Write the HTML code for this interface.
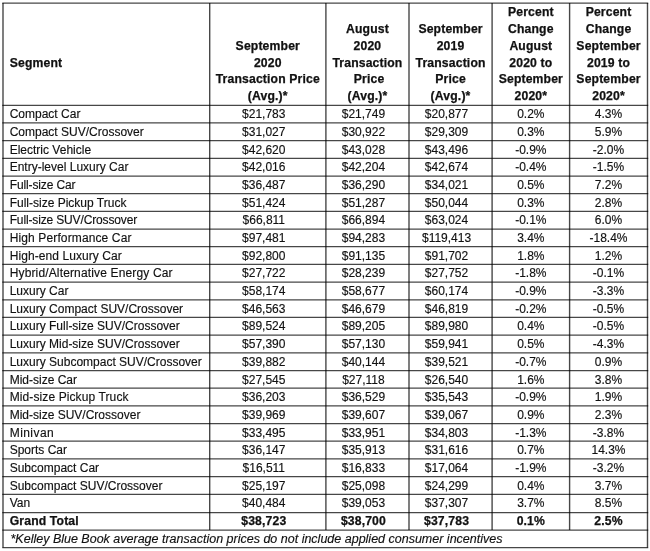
<!DOCTYPE html>
<html><head><meta charset="utf-8"><style>
html,body{margin:0;padding:0;background:#fff;}
body{width:650px;height:551px;position:relative;overflow:hidden;font-family:"Liberation Sans",Arial,sans-serif;font-size:12px;color:#111;-webkit-font-smoothing:antialiased;filter:grayscale(1);}
.t{position:absolute;white-space:nowrap;line-height:20px;height:20px;-webkit-text-stroke:0.15px #111;}
.c{text-align:center;}
.b{font-weight:bold;font-size:12.2px;-webkit-text-stroke:0.25px #111;letter-spacing:0.15px;}
.i{font-style:italic;font-size:12.5px;}
svg line{stroke:#000;stroke-width:1.4;stroke-opacity:0.72;}
svg line.h{stroke-width:1.25;}
</style></head><body>
<svg width="650" height="551" viewBox="0 0 650 551" style="position:absolute;left:0;top:0"><line class="h" x1="2.30" y1="3.00" x2="648.20" y2="3.00"/><line class="h" x1="2.30" y1="105.30" x2="648.20" y2="105.30"/><line class="h" x1="2.30" y1="122.98" x2="648.20" y2="122.98"/><line class="h" x1="2.30" y1="140.66" x2="648.20" y2="140.66"/><line class="h" x1="2.30" y1="158.34" x2="648.20" y2="158.34"/><line class="h" x1="2.30" y1="176.02" x2="648.20" y2="176.02"/><line class="h" x1="2.30" y1="193.70" x2="648.20" y2="193.70"/><line class="h" x1="2.30" y1="211.38" x2="648.20" y2="211.38"/><line class="h" x1="2.30" y1="229.06" x2="648.20" y2="229.06"/><line class="h" x1="2.30" y1="246.74" x2="648.20" y2="246.74"/><line class="h" x1="2.30" y1="264.42" x2="648.20" y2="264.42"/><line class="h" x1="2.30" y1="282.10" x2="648.20" y2="282.10"/><line class="h" x1="2.30" y1="299.78" x2="648.20" y2="299.78"/><line class="h" x1="2.30" y1="317.46" x2="648.20" y2="317.46"/><line class="h" x1="2.30" y1="335.14" x2="648.20" y2="335.14"/><line class="h" x1="2.30" y1="352.82" x2="648.20" y2="352.82"/><line class="h" x1="2.30" y1="370.50" x2="648.20" y2="370.50"/><line class="h" x1="2.30" y1="388.18" x2="648.20" y2="388.18"/><line class="h" x1="2.30" y1="405.86" x2="648.20" y2="405.86"/><line class="h" x1="2.30" y1="423.54" x2="648.20" y2="423.54"/><line class="h" x1="2.30" y1="441.22" x2="648.20" y2="441.22"/><line class="h" x1="2.30" y1="458.90" x2="648.20" y2="458.90"/><line class="h" x1="2.30" y1="476.58" x2="648.20" y2="476.58"/><line class="h" x1="2.30" y1="494.26" x2="648.20" y2="494.26"/><line class="h" x1="2.30" y1="512.50" x2="648.20" y2="512.50"/><line class="h" x1="2.30" y1="530.00" x2="648.20" y2="530.00"/><line class="h" x1="2.30" y1="547.50" x2="648.20" y2="547.50"/><line x1="3.00" y1="3.00" x2="3.00" y2="547.50"/><line x1="209.70" y1="3.00" x2="209.70" y2="530.00"/><line x1="325.90" y1="3.00" x2="325.90" y2="530.00"/><line x1="409.00" y1="3.00" x2="409.00" y2="530.00"/><line x1="492.10" y1="3.00" x2="492.10" y2="530.00"/><line x1="569.60" y1="3.00" x2="569.60" y2="530.00"/><line x1="647.50" y1="3.00" x2="647.50" y2="547.50"/></svg>
<div class="t b" style="left:9.70px;top:52.55px">Segment</div>
<div class="t c b" style="left:209.70px;top:35.70px;width:116.20px">September</div>
<div class="t c b" style="left:209.70px;top:52.55px;width:116.20px">2020</div>
<div class="t c b" style="left:209.70px;top:69.40px;width:116.20px">Transaction Price</div>
<div class="t c b" style="left:209.70px;top:86.25px;width:116.20px">(Avg.)*</div>
<div class="t c b" style="left:325.90px;top:18.85px;width:83.10px">August</div>
<div class="t c b" style="left:325.90px;top:35.70px;width:83.10px">2020</div>
<div class="t c b" style="left:325.90px;top:52.55px;width:83.10px">Transaction</div>
<div class="t c b" style="left:327.50px;top:69.40px;width:83.10px">Price</div>
<div class="t c b" style="left:325.90px;top:86.25px;width:83.10px">(Avg.)*</div>
<div class="t c b" style="left:409.00px;top:18.85px;width:83.10px">September</div>
<div class="t c b" style="left:409.00px;top:35.70px;width:83.10px">2019</div>
<div class="t c b" style="left:409.00px;top:52.55px;width:83.10px">Transaction</div>
<div class="t c b" style="left:409.00px;top:69.40px;width:83.10px">Price</div>
<div class="t c b" style="left:409.00px;top:86.25px;width:83.10px">(Avg.)*</div>
<div class="t c b" style="left:492.10px;top:2.00px;width:77.50px">Percent</div>
<div class="t c b" style="left:492.10px;top:18.85px;width:77.50px">Change</div>
<div class="t c b" style="left:492.10px;top:35.70px;width:77.50px">August</div>
<div class="t c b" style="left:492.10px;top:52.55px;width:77.50px">2020 to</div>
<div class="t c b" style="left:492.10px;top:69.40px;width:77.50px">September</div>
<div class="t c b" style="left:492.10px;top:86.25px;width:77.50px">2020*</div>
<div class="t c b" style="left:569.60px;top:2.00px;width:77.90px">Percent</div>
<div class="t c b" style="left:569.60px;top:18.85px;width:77.90px">Change</div>
<div class="t c b" style="left:569.60px;top:35.70px;width:77.90px">September</div>
<div class="t c b" style="left:569.60px;top:52.55px;width:77.90px">2019 to</div>
<div class="t c b" style="left:569.60px;top:69.40px;width:77.90px">September</div>
<div class="t c b" style="left:569.60px;top:86.25px;width:77.90px">2020*</div>
<div class="t " style="left:9.70px;top:104.30px">Compact Car</div>
<div class="t c " style="left:205.70px;top:104.30px;width:116.20px">$21,783</div>
<div class="t c " style="left:321.90px;top:104.30px;width:83.10px">$21,749</div>
<div class="t c " style="left:405.00px;top:104.30px;width:83.10px">$20,877</div>
<div class="t c " style="left:492.10px;top:104.30px;width:77.50px">0.2%</div>
<div class="t c " style="left:569.60px;top:104.30px;width:77.90px">4.3%</div>
<div class="t " style="left:9.70px;top:121.98px">Compact SUV/Crossover</div>
<div class="t c " style="left:205.70px;top:121.98px;width:116.20px">$31,027</div>
<div class="t c " style="left:321.90px;top:121.98px;width:83.10px">$30,922</div>
<div class="t c " style="left:405.00px;top:121.98px;width:83.10px">$29,309</div>
<div class="t c " style="left:492.10px;top:121.98px;width:77.50px">0.3%</div>
<div class="t c " style="left:569.60px;top:121.98px;width:77.90px">5.9%</div>
<div class="t " style="left:9.70px;top:139.66px">Electric Vehicle</div>
<div class="t c " style="left:205.70px;top:139.66px;width:116.20px">$42,620</div>
<div class="t c " style="left:321.90px;top:139.66px;width:83.10px">$43,028</div>
<div class="t c " style="left:405.00px;top:139.66px;width:83.10px">$43,496</div>
<div class="t c " style="left:492.10px;top:139.66px;width:77.50px">-0.9%</div>
<div class="t c " style="left:569.60px;top:139.66px;width:77.90px">-2.0%</div>
<div class="t " style="left:9.70px;top:157.34px">Entry-level Luxury Car</div>
<div class="t c " style="left:205.70px;top:157.34px;width:116.20px">$42,016</div>
<div class="t c " style="left:321.90px;top:157.34px;width:83.10px">$42,204</div>
<div class="t c " style="left:405.00px;top:157.34px;width:83.10px">$42,674</div>
<div class="t c " style="left:492.10px;top:157.34px;width:77.50px">-0.4%</div>
<div class="t c " style="left:569.60px;top:157.34px;width:77.90px">-1.5%</div>
<div class="t " style="left:9.70px;top:175.02px;letter-spacing:-0.125px">Full-size Car</div>
<div class="t c " style="left:205.70px;top:175.02px;width:116.20px">$36,487</div>
<div class="t c " style="left:321.90px;top:175.02px;width:83.10px">$36,290</div>
<div class="t c " style="left:405.00px;top:175.02px;width:83.10px">$34,021</div>
<div class="t c " style="left:492.10px;top:175.02px;width:77.50px">0.5%</div>
<div class="t c " style="left:569.60px;top:175.02px;width:77.90px">7.2%</div>
<div class="t " style="left:9.70px;top:192.70px">Full-size Pickup Truck</div>
<div class="t c " style="left:205.70px;top:192.70px;width:116.20px">$51,424</div>
<div class="t c " style="left:321.90px;top:192.70px;width:83.10px">$51,287</div>
<div class="t c " style="left:405.00px;top:192.70px;width:83.10px">$50,044</div>
<div class="t c " style="left:492.10px;top:192.70px;width:77.50px">0.3%</div>
<div class="t c " style="left:569.60px;top:192.70px;width:77.90px">2.8%</div>
<div class="t " style="left:9.70px;top:210.38px;letter-spacing:-0.145px">Full-size SUV/Crossover</div>
<div class="t c " style="left:205.70px;top:210.38px;width:116.20px">$66,811</div>
<div class="t c " style="left:321.90px;top:210.38px;width:83.10px">$66,894</div>
<div class="t c " style="left:405.00px;top:210.38px;width:83.10px">$63,024</div>
<div class="t c " style="left:492.10px;top:210.38px;width:77.50px">-0.1%</div>
<div class="t c " style="left:569.60px;top:210.38px;width:77.90px">6.0%</div>
<div class="t " style="left:9.70px;top:228.06px;letter-spacing:0.126px">High Performance Car</div>
<div class="t c " style="left:205.70px;top:228.06px;width:116.20px">$97,481</div>
<div class="t c " style="left:321.90px;top:228.06px;width:83.10px">$94,283</div>
<div class="t c " style="left:405.00px;top:228.06px;width:83.10px">$119,413</div>
<div class="t c " style="left:492.10px;top:228.06px;width:77.50px">3.4%</div>
<div class="t c " style="left:569.60px;top:228.06px;width:77.90px">-18.4%</div>
<div class="t " style="left:9.70px;top:245.74px;letter-spacing:0.078px">High-end Luxury Car</div>
<div class="t c " style="left:205.70px;top:245.74px;width:116.20px">$92,800</div>
<div class="t c " style="left:321.90px;top:245.74px;width:83.10px">$91,135</div>
<div class="t c " style="left:405.00px;top:245.74px;width:83.10px">$91,702</div>
<div class="t c " style="left:492.10px;top:245.74px;width:77.50px">1.8%</div>
<div class="t c " style="left:569.60px;top:245.74px;width:77.90px">1.2%</div>
<div class="t " style="left:9.70px;top:263.42px;letter-spacing:0.146px">Hybrid/Alternative Energy Car</div>
<div class="t c " style="left:205.70px;top:263.42px;width:116.20px">$27,722</div>
<div class="t c " style="left:321.90px;top:263.42px;width:83.10px">$28,239</div>
<div class="t c " style="left:405.00px;top:263.42px;width:83.10px">$27,752</div>
<div class="t c " style="left:492.10px;top:263.42px;width:77.50px">-1.8%</div>
<div class="t c " style="left:569.60px;top:263.42px;width:77.90px">-0.1%</div>
<div class="t " style="left:9.70px;top:281.10px">Luxury Car</div>
<div class="t c " style="left:205.70px;top:281.10px;width:116.20px">$58,174</div>
<div class="t c " style="left:321.90px;top:281.10px;width:83.10px">$58,677</div>
<div class="t c " style="left:405.00px;top:281.10px;width:83.10px">$60,174</div>
<div class="t c " style="left:492.10px;top:281.10px;width:77.50px">-0.9%</div>
<div class="t c " style="left:569.60px;top:281.10px;width:77.90px">-3.3%</div>
<div class="t " style="left:9.70px;top:298.78px">Luxury Compact SUV/Crossover</div>
<div class="t c " style="left:205.70px;top:298.78px;width:116.20px">$46,563</div>
<div class="t c " style="left:321.90px;top:298.78px;width:83.10px">$46,679</div>
<div class="t c " style="left:405.00px;top:298.78px;width:83.10px">$46,819</div>
<div class="t c " style="left:492.10px;top:298.78px;width:77.50px">-0.2%</div>
<div class="t c " style="left:569.60px;top:298.78px;width:77.90px">-0.5%</div>
<div class="t " style="left:9.70px;top:316.46px">Luxury Full-size SUV/Crossover</div>
<div class="t c " style="left:205.70px;top:316.46px;width:116.20px">$89,524</div>
<div class="t c " style="left:321.90px;top:316.46px;width:83.10px">$89,205</div>
<div class="t c " style="left:405.00px;top:316.46px;width:83.10px">$89,980</div>
<div class="t c " style="left:492.10px;top:316.46px;width:77.50px">0.4%</div>
<div class="t c " style="left:569.60px;top:316.46px;width:77.90px">-0.5%</div>
<div class="t " style="left:9.70px;top:334.14px">Luxury Mid-size SUV/Crossover</div>
<div class="t c " style="left:205.70px;top:334.14px;width:116.20px">$57,390</div>
<div class="t c " style="left:321.90px;top:334.14px;width:83.10px">$57,130</div>
<div class="t c " style="left:405.00px;top:334.14px;width:83.10px">$59,941</div>
<div class="t c " style="left:492.10px;top:334.14px;width:77.50px">0.5%</div>
<div class="t c " style="left:569.60px;top:334.14px;width:77.90px">-4.3%</div>
<div class="t " style="left:9.70px;top:351.82px">Luxury Subcompact SUV/Crossover</div>
<div class="t c " style="left:205.70px;top:351.82px;width:116.20px">$39,882</div>
<div class="t c " style="left:321.90px;top:351.82px;width:83.10px">$40,144</div>
<div class="t c " style="left:405.00px;top:351.82px;width:83.10px">$39,521</div>
<div class="t c " style="left:492.10px;top:351.82px;width:77.50px">-0.7%</div>
<div class="t c " style="left:569.60px;top:351.82px;width:77.90px">0.9%</div>
<div class="t " style="left:9.70px;top:369.50px">Mid-size Car</div>
<div class="t c " style="left:205.70px;top:369.50px;width:116.20px">$27,545</div>
<div class="t c " style="left:321.90px;top:369.50px;width:83.10px">$27,118</div>
<div class="t c " style="left:405.00px;top:369.50px;width:83.10px">$26,540</div>
<div class="t c " style="left:492.10px;top:369.50px;width:77.50px">1.6%</div>
<div class="t c " style="left:569.60px;top:369.50px;width:77.90px">3.8%</div>
<div class="t " style="left:9.70px;top:387.18px;letter-spacing:0.105px">Mid-size Pickup Truck</div>
<div class="t c " style="left:205.70px;top:387.18px;width:116.20px">$36,203</div>
<div class="t c " style="left:321.90px;top:387.18px;width:83.10px">$36,529</div>
<div class="t c " style="left:405.00px;top:387.18px;width:83.10px">$35,543</div>
<div class="t c " style="left:492.10px;top:387.18px;width:77.50px">-0.9%</div>
<div class="t c " style="left:569.60px;top:387.18px;width:77.90px">1.9%</div>
<div class="t " style="left:9.70px;top:404.86px">Mid-size SUV/Crossover</div>
<div class="t c " style="left:205.70px;top:404.86px;width:116.20px">$39,969</div>
<div class="t c " style="left:321.90px;top:404.86px;width:83.10px">$39,607</div>
<div class="t c " style="left:405.00px;top:404.86px;width:83.10px">$39,067</div>
<div class="t c " style="left:492.10px;top:404.86px;width:77.50px">0.9%</div>
<div class="t c " style="left:569.60px;top:404.86px;width:77.90px">2.3%</div>
<div class="t " style="left:9.70px;top:422.54px;letter-spacing:0.450px">Minivan</div>
<div class="t c " style="left:205.70px;top:422.54px;width:116.20px">$33,495</div>
<div class="t c " style="left:321.90px;top:422.54px;width:83.10px">$33,951</div>
<div class="t c " style="left:405.00px;top:422.54px;width:83.10px">$34,803</div>
<div class="t c " style="left:492.10px;top:422.54px;width:77.50px">-1.3%</div>
<div class="t c " style="left:569.60px;top:422.54px;width:77.90px">-3.8%</div>
<div class="t " style="left:9.70px;top:440.22px">Sports Car</div>
<div class="t c " style="left:205.70px;top:440.22px;width:116.20px">$36,147</div>
<div class="t c " style="left:321.90px;top:440.22px;width:83.10px">$35,913</div>
<div class="t c " style="left:405.00px;top:440.22px;width:83.10px">$31,616</div>
<div class="t c " style="left:492.10px;top:440.22px;width:77.50px">0.7%</div>
<div class="t c " style="left:569.60px;top:440.22px;width:77.90px">14.3%</div>
<div class="t " style="left:9.70px;top:457.90px">Subcompact Car</div>
<div class="t c " style="left:205.70px;top:457.90px;width:116.20px">$16,511</div>
<div class="t c " style="left:321.90px;top:457.90px;width:83.10px">$16,833</div>
<div class="t c " style="left:405.00px;top:457.90px;width:83.10px">$17,064</div>
<div class="t c " style="left:492.10px;top:457.90px;width:77.50px">-1.9%</div>
<div class="t c " style="left:569.60px;top:457.90px;width:77.90px">-3.2%</div>
<div class="t " style="left:9.70px;top:475.58px">Subcompact SUV/Crossover</div>
<div class="t c " style="left:205.70px;top:475.58px;width:116.20px">$25,197</div>
<div class="t c " style="left:321.90px;top:475.58px;width:83.10px">$25,098</div>
<div class="t c " style="left:405.00px;top:475.58px;width:83.10px">$24,299</div>
<div class="t c " style="left:492.10px;top:475.58px;width:77.50px">0.4%</div>
<div class="t c " style="left:569.60px;top:475.58px;width:77.90px">3.7%</div>
<div class="t " style="left:9.70px;top:493.26px">Van</div>
<div class="t c " style="left:205.70px;top:493.26px;width:116.20px">$40,484</div>
<div class="t c " style="left:321.90px;top:493.26px;width:83.10px">$39,053</div>
<div class="t c " style="left:405.00px;top:493.26px;width:83.10px">$37,307</div>
<div class="t c " style="left:492.10px;top:493.26px;width:77.50px">3.7%</div>
<div class="t c " style="left:569.60px;top:493.26px;width:77.90px">8.5%</div>
<div class="t b" style="left:9.70px;top:511.00px">Grand Total</div>
<div class="t c b" style="left:205.70px;top:511.00px;width:116.20px">$38,723</div>
<div class="t c b" style="left:321.90px;top:511.00px;width:83.10px">$38,700</div>
<div class="t c b" style="left:405.00px;top:511.00px;width:83.10px">$37,783</div>
<div class="t c b" style="left:492.10px;top:511.00px;width:77.50px">0.1%</div>
<div class="t c b" style="left:569.60px;top:511.00px;width:77.90px">2.5%</div>
<div class="t i" style="left:10.50px;top:528.50px">*Kelley Blue Book average transaction prices do not include applied consumer incentives</div>
</body></html>
